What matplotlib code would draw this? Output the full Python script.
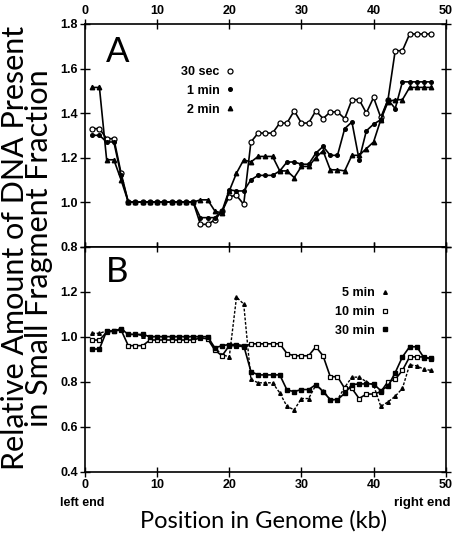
import matplotlib
matplotlib.use("Agg")
import matplotlib.pyplot as plt
from matplotlib.lines import Line2D
from matplotlib.font_manager import FontProperties

# ---------------- data ----------------
kb = list(range(1, 49))

sec30 = [1.33, 1.33, 1.285, 1.285, 1.13] + [1.0] * 10 + [
    0.90, 0.90, 0.92, 0.96, 1.025, 1.03, 0.99, 1.27, 1.31, 1.31, 1.31,
    1.355, 1.355, 1.41, 1.355, 1.355, 1.41, 1.375, 1.405, 1.405, 1.375,
    1.46, 1.46, 1.40, 1.47, 1.38, 1.46, 1.68, 1.68, 1.755, 1.755, 1.755, 1.755]

min1 = [1.30, 1.30, 1.27, 1.27, 1.12] + [1.0] * 10 + [
    0.93, 0.93, 0.93, 0.96, 1.055, 1.05, 1.05, 1.10, 1.12, 1.12, 1.12,
    1.14, 1.18, 1.18, 1.17, 1.17, 1.22, 1.25, 1.21, 1.21, 1.33,
    1.36, 1.19, 1.32, 1.35, 1.37, 1.46, 1.42, 1.54, 1.54, 1.54, 1.54, 1.54]

min2 = [1.515, 1.515, 1.19, 1.19, 1.10] + [1.0] * 10 + [
    1.01, 1.01, 0.96, 0.95, 1.05, 1.13, 1.19, 1.18, 1.205, 1.205, 1.205,
    1.14, 1.14, 1.11, 1.16, 1.16, 1.20, 1.23, 1.145, 1.145, 1.14,
    1.21, 1.21, 1.24, 1.27, 1.37, 1.45, 1.46, 1.46, 1.515, 1.515, 1.515, 1.515]

min5 = [1.015, 1.015, 1.025, 1.025, 1.035, 1.01, 1.01, 1.005] + [1.0] * 8 + [
    0.99, 0.95, 0.92, 0.91, 1.175, 1.145, 0.81, 0.795, 0.795, 0.795,
    0.75, 0.69, 0.675, 0.725, 0.725, 0.785, 0.76, 0.72, 0.72, 0.775,
    0.82, 0.82, 0.80, 0.785, 0.69, 0.71, 0.735, 0.77, 0.875, 0.87, 0.855, 0.85]

min10 = [0.985, 0.985, 1.02, 1.025, 1.03, 0.96, 0.96, 0.96] + [0.985] * 7 + [
    0.995, 0.99, 0.94, 0.915, 0.96, 0.96, 0.955, 0.968, 0.968, 0.968, 0.968,
    0.968, 0.925, 0.915, 0.915, 0.915, 0.955, 0.915, 0.822, 0.822, 0.77,
    0.77, 0.725, 0.745, 0.745, 0.755, 0.80, 0.81, 0.85, 0.91, 0.91, 0.91, 0.90]

min30 = [0.945, 0.945, 1.025, 1.025, 1.035, 1.01, 1.01, 1.01] + [1.0] * 9 + [
    0.95, 0.96, 0.965, 0.965, 0.96, 0.845, 0.83, 0.83, 0.83, 0.83,
    0.763, 0.756, 0.765, 0.765, 0.787, 0.756, 0.72, 0.72, 0.748, 0.787,
    0.79, 0.79, 0.79, 0.76, 0.78, 0.84, 0.91, 0.955, 0.955, 0.905, 0.905]

x_ticks = [0, 10, 20, 30, 40, 50]
yA_ticks = [0.8, 1.0, 1.2, 1.4, 1.6, 1.8]
yB_ticks = [0.4, 0.6, 0.8, 1.0, 1.2, 1.4]

labelsA = ["30 sec", "1 min", "2 min"]
labelsB = ["5 min", "10 min", "30 min"]

# ---------------- figure ----------------
W, H = 462, 534
fig = plt.figure(figsize=(W / 100, H / 100), dpi=100)
left, right = 85 / W, 445.7 / W
topA, mid, botB = 1 - 24 / H, 1 - 246.6 / H, 1 - 471.7 / H
axA = fig.add_axes([left, mid, right - left, topA - mid])
axB = fig.add_axes([left, botB, right - left, mid - botB], sharex=axA)

tickfp = FontProperties(family="Liberation Sans", weight="bold", size=9)
lc = "black"

# Panel A
axA.plot(kb, sec30, color=lc, lw=1.2, marker="o", ms=3.6, mfc="white", mec=lc, mew=0.9)
axA.plot(kb, min1, color=lc, lw=1.2, marker="o", ms=2.6, mfc=lc, mec=lc)
axA.plot(kb, min2, color=lc, lw=1.2, marker="^", ms=3.2, mfc=lc, mec=lc)

# Panel B
axB.plot(kb, min5, color=lc, lw=1.0, ls=(0, (2, 1.2)), marker="^", ms=2.6, mfc=lc, mec=lc)
axB.plot(kb, min10, color=lc, lw=1.2, marker="s", ms=3.4, mfc="white", mec=lc, mew=0.9)
axB.plot(kb, min30, color=lc, lw=1.2, marker="s", ms=3.0, mfc=lc, mec=lc)

for ax in (axA, axB):
    ax.set_xlim(0, 50)
    ax.set_xticks(x_ticks)
    for s in ax.spines.values():
        s.set_linewidth(1.2)
    ax.tick_params(direction="inout", length=7, width=1.0, top=True, right=True,
                   labelright=False, pad=1.5)

axA.set_ylim(0.8, 1.8)
axA.set_yticks(yA_ticks)
axA.set_yticklabels([f"{v:.1f}" for v in yA_ticks], fontproperties=tickfp)
axA.tick_params(labeltop=True, labelbottom=False)
axA.set_xticklabels([str(v) for v in x_ticks], fontproperties=tickfp)

axB.set_ylim(0.4, 1.4)
axB.set_yticks(yB_ticks)
axB.set_yticklabels([f"{v:.1f}" for v in yB_ticks[:-1]] + [""], fontproperties=tickfp)
axB.tick_params(labeltop=False, labelbottom=True)
for lab in axB.get_xticklabels():
    lab.set_fontproperties(tickfp)

# legends (text left, marker right)
legfp = FontProperties(family="Liberation Sans", weight="bold", size=9)
hA = [Line2D([], [], ls="none", marker="o", ms=3.6, mfc="white", mec=lc, mew=0.9),
      Line2D([], [], ls="none", marker="o", ms=2.6, mfc=lc, mec=lc),
      Line2D([], [], ls="none", marker="^", ms=3.2, mfc=lc, mec=lc)]
axA.legend(hA, labelsA, loc="center right", bbox_to_anchor=(0.425, 0.70),
           frameon=False, markerfirst=False, handlelength=0.6, handletextpad=0.5,
           labelspacing=0.55, prop=legfp, borderaxespad=0)
hB = [Line2D([], [], ls="none", marker="^", ms=2.6, mfc=lc, mec=lc),
      Line2D([], [], ls="none", marker="s", ms=3.4, mfc="white", mec=lc, mew=0.9),
      Line2D([], [], ls="none", marker="s", ms=3.0, mfc=lc, mec=lc)]
axB.legend(hB, labelsB, loc="center right", bbox_to_anchor=(0.855, 0.71),
           frameon=False, markerfirst=False, handlelength=0.6, handletextpad=0.5,
           labelspacing=0.55, prop=legfp, borderaxespad=0)

# panel letters
thin = dict(family=["Lato", "DejaVu Sans"], weight="normal")
axA.text(0.09, 0.875, "A", transform=axA.transAxes, fontsize=25, ha="center", va="center", **thin)
axB.text(0.09, 0.885, "B", transform=axB.transAxes, fontsize=25, ha="center", va="center", **thin)

# axis labels
fig.text(27 / W, 0.535, "Relative Amount of DNA Present\nin Small Fragment Fraction",
         rotation=90, ha="center", va="center", fontsize=22, linespacing=0.86, **thin)
fig.text(264 / W, 1 - 521 / H, "Position in Genome (kb)", ha="center", va="center",
         fontsize=17, **thin)
fig.text(60 / W, 1 - 503 / H, "left end", ha="left", va="center", fontproperties=tickfp)
fig.text(394 / W, 1 - 503 / H, "right end", ha="left", va="center",
         fontproperties=FontProperties(family="Liberation Sans", weight="bold", size=9.5))

fig.savefig("out.png", dpi=100)
